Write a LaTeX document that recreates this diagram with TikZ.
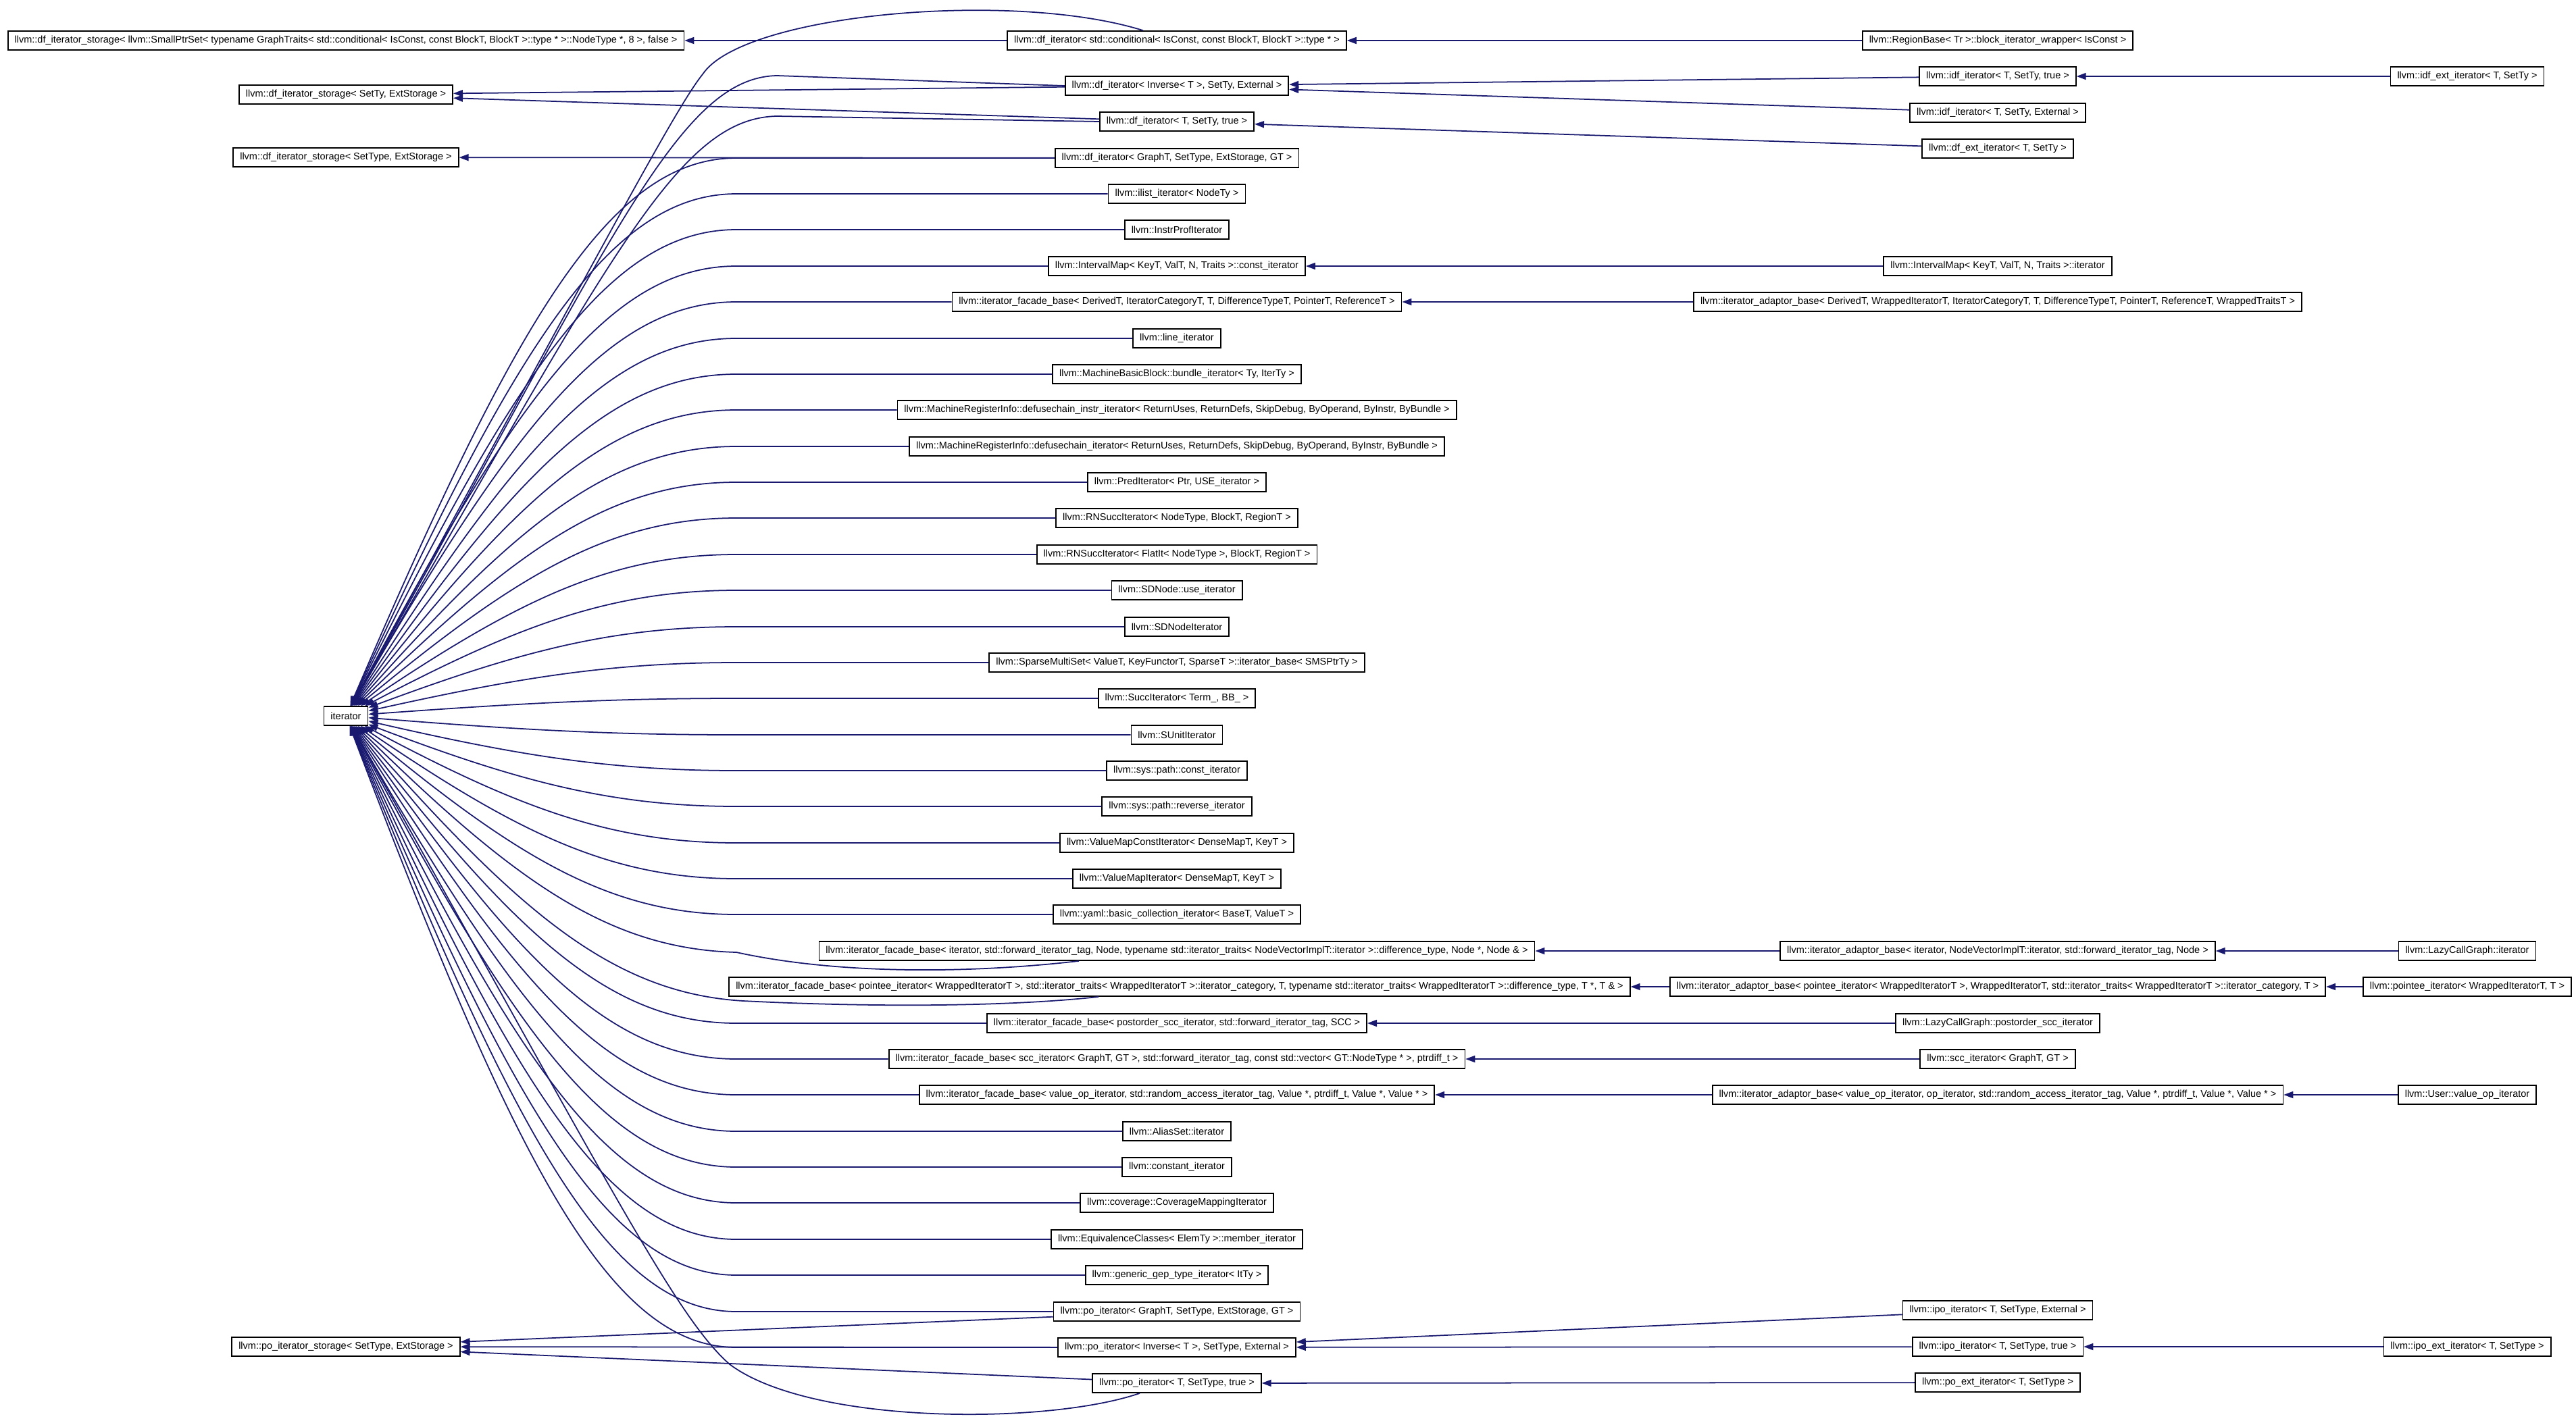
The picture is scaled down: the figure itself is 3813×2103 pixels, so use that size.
\documentclass[tikz,border=0pt]{standalone}
\usepackage{fontspec}
\setmainfont{Liberation Sans}
\definecolor{edgeblue}{RGB}{25,25,112}
\usetikzlibrary{arrows.meta}

\begin{document}
\begin{tikzpicture}[x=0.02cm, y=-0.02cm,
  cls/.style={draw=black, fill=white, line width=1pt, font=\fontsize{8.25}{10}\selectfont, inner xsep=0.2cm, inner ysep=0pt, minimum height=0.56cm},
  inh/.style={draw=edgeblue, line width=1pt, <-},
  >={Triangle[length=0.28cm, width=0.2cm]}]
  \useasboundingbox (0,0) rectangle (3813,2103);

  %--- Base classes ---
  \node[cls] (dfstorebig) at (512,60) {llvm::df\_iterator\_storage< llvm::SmallPtrSet< typename GraphTraits< std::conditional< IsConst, const BlockT, BlockT >::type * >::NodeType *, 8 >, false >};
  \node[cls] (dfstoresetty) at (512,140) {llvm::df\_iterator\_storage< SetTy, ExtStorage >};
  \node[cls] (dfstoresettype) at (512,233) {llvm::df\_iterator\_storage< SetType, ExtStorage >};
  \node[cls] (iterator) at (512,1060) {iterator};
  \node[cls] (postore) at (512,1994) {llvm::po\_iterator\_storage< SetType, ExtStorage >};

  %--- Direct subclasses of iterator ---
  \node[cls] (dfcond) at (1742,60) {llvm::df\_iterator< std::conditional< IsConst, const BlockT, BlockT >::type * >};
  \node[cls] (dfinv) at (1742,127) {llvm::df\_iterator< Inverse< T >, SetTy, External >};
  \node[cls] (dftrue) at (1742,180) {llvm::df\_iterator< T, SetTy, true >};
  \node[cls] (dfgraph) at (1742,234) {llvm::df\_iterator< GraphT, SetType, ExtStorage, GT >};
  \node[cls] (ilist) at (1742,287) {llvm::ilist\_iterator< NodeTy >};
  \node[cls] (instrprof) at (1742,340) {llvm::InstrProfIterator};
  \node[cls] (imapconst) at (1742,394) {llvm::IntervalMap< KeyT, ValT, N, Traits >::const\_iterator};
  \node[cls] (facadederived) at (1742,447) {llvm::iterator\_facade\_base< DerivedT, IteratorCategoryT, T, DifferenceTypeT, PointerT, ReferenceT >};
  \node[cls] (lineit) at (1742,501) {llvm::line\_iterator};
  \node[cls] (bundle) at (1742,554) {llvm::MachineBasicBlock::bundle\_iterator< Ty, IterTy >};
  \node[cls] (defuseinstr) at (1742,607) {llvm::MachineRegisterInfo::defusechain\_instr\_iterator< ReturnUses, ReturnDefs, SkipDebug, ByOperand, ByInstr, ByBundle >};
  \node[cls] (defuse) at (1742,661) {llvm::MachineRegisterInfo::defusechain\_iterator< ReturnUses, ReturnDefs, SkipDebug, ByOperand, ByInstr, ByBundle >};
  \node[cls] (pred) at (1742,714) {llvm::PredIterator< Ptr, USE\_iterator >};
  \node[cls] (rnsucc) at (1742,767) {llvm::RNSuccIterator< NodeType, BlockT, RegionT >};
  \node[cls] (rnsuccflat) at (1742,821) {llvm::RNSuccIterator< FlatIt< NodeType >, BlockT, RegionT >};
  \node[cls] (sdnodeuse) at (1742,874) {llvm::SDNode::use\_iterator};
  \node[cls] (sdnodeit) at (1742,928) {llvm::SDNodeIterator};
  \node[cls] (sparse) at (1742,981) {llvm::SparseMultiSet< ValueT, KeyFunctorT, SparseT >::iterator\_base< SMSPtrTy >};
  \node[cls] (succ) at (1742,1034) {llvm::SuccIterator< Term\_, BB\_ >};
  \node[cls] (sunit) at (1742,1088) {llvm::SUnitIterator};
  \node[cls] (pathconst) at (1742,1141) {llvm::sys::path::const\_iterator};
  \node[cls] (pathrev) at (1742,1194) {llvm::sys::path::reverse\_iterator};
  \node[cls] (vmapconst) at (1742,1248) {llvm::ValueMapConstIterator< DenseMapT, KeyT >};
  \node[cls] (vmap) at (1742,1301) {llvm::ValueMapIterator< DenseMapT, KeyT >};
  \node[cls] (yaml) at (1742,1354) {llvm::yaml::basic\_collection\_iterator< BaseT, ValueT >};
  \node[cls] (facadenode) at (1742,1408) {llvm::iterator\_facade\_base< iterator, std::forward\_iterator\_tag, Node, typename std::iterator\_traits< NodeVectorImplT::iterator >::difference\_type, Node *, Node \& >};
  \node[cls] (facadepointee) at (1746,1461) {llvm::iterator\_facade\_base< pointee\_iterator< WrappedIteratorT >, std::iterator\_traits< WrappedIteratorT >::iterator\_category, T, typename std::iterator\_traits< WrappedIteratorT >::difference\_type, T *, T \& >};
  \node[cls] (facadepostorder) at (1742,1515) {llvm::iterator\_facade\_base< postorder\_scc\_iterator, std::forward\_iterator\_tag, SCC >};
  \node[cls] (facadescc) at (1742,1568) {llvm::iterator\_facade\_base< scc\_iterator< GraphT, GT >, std::forward\_iterator\_tag, const std::vector< GT::NodeType * >, ptrdiff\_t >};
  \node[cls] (facadevalueop) at (1742,1621) {llvm::iterator\_facade\_base< value\_op\_iterator, std::random\_access\_iterator\_tag, Value *, ptrdiff\_t, Value *, Value * >};
  \node[cls] (aliasset) at (1742,1675) {llvm::AliasSet::iterator};
  \node[cls] (constant) at (1742,1728) {llvm::constant\_iterator};
  \node[cls] (coverage) at (1742,1781) {llvm::coverage::CoverageMappingIterator};
  \node[cls] (equiv) at (1742,1835) {llvm::EquivalenceClasses< ElemTy >::member\_iterator};
  \node[cls] (gep) at (1742,1888) {llvm::generic\_gep\_type\_iterator< ItTy >};
  \node[cls] (pograph) at (1742,1942) {llvm::po\_iterator< GraphT, SetType, ExtStorage, GT >};
  \node[cls] (poinv) at (1742,1995) {llvm::po\_iterator< Inverse< T >, SetType, External >};
  \node[cls] (potrue) at (1742,2048) {llvm::po\_iterator< T, SetType, true >};

  %--- Second level ---
  \node[cls] (regionbase) at (2957,60) {llvm::RegionBase< Tr >::block\_iterator\_wrapper< IsConst >};
  \node[cls] (idftrue) at (2957,113) {llvm::idf\_iterator< T, SetTy, true >};
  \node[cls] (idfexternal) at (2957,167) {llvm::idf\_iterator< T, SetTy, External >};
  \node[cls] (dfext) at (2957,220) {llvm::df\_ext\_iterator< T, SetTy >};
  \node[cls] (imapit) at (2957,394) {llvm::IntervalMap< KeyT, ValT, N, Traits >::iterator};
  \node[cls] (adaptorderived) at (2957,447) {llvm::iterator\_adaptor\_base< DerivedT, WrappedIteratorT, IteratorCategoryT, T, DifferenceTypeT, PointerT, ReferenceT, WrappedTraitsT >};
  \node[cls] (adaptornode) at (2957,1408) {llvm::iterator\_adaptor\_base< iterator, NodeVectorImplT::iterator, std::forward\_iterator\_tag, Node >};
  \node[cls] (adaptorpointee) at (2957,1461) {llvm::iterator\_adaptor\_base< pointee\_iterator< WrappedIteratorT >, WrappedIteratorT, std::iterator\_traits< WrappedIteratorT >::iterator\_category, T >};
  \node[cls] (lcgpostorder) at (2957,1515) {llvm::LazyCallGraph::postorder\_scc\_iterator};
  \node[cls] (sccit) at (2957,1568) {llvm::scc\_iterator< GraphT, GT >};
  \node[cls] (adaptorvalueop) at (2957,1621) {llvm::iterator\_adaptor\_base< value\_op\_iterator, op\_iterator, std::random\_access\_iterator\_tag, Value *, ptrdiff\_t, Value *, Value * >};
  \node[cls] (ipoexternal) at (2957,1940) {llvm::ipo\_iterator< T, SetType, External >};
  \node[cls] (ipotrue) at (2957,1994) {llvm::ipo\_iterator< T, SetType, true >};
  \node[cls] (poext) at (2957,2047) {llvm::po\_ext\_iterator< T, SetType >};

  %--- Third level ---
  \node[cls] (idfextit) at (3652,113) {llvm::idf\_ext\_iterator< T, SetTy >};
  \node[cls] (lcgit) at (3652,1408) {llvm::LazyCallGraph::iterator};
  \node[cls] (pointeeit) at (3652,1461) {llvm::pointee\_iterator< WrappedIteratorT, T >};
  \node[cls] (uservalueop) at (3652,1621) {llvm::User::value\_op\_iterator};
  \node[cls] (ipoextit) at (3652,1994) {llvm::ipo\_ext\_iterator< T, SetType >};

  %--- Storage edges ---
  \draw[inh] (dfstorebig) -- (dfcond);
  \draw[inh] (dfstoresetty) -- (dfinv);
  \draw[inh] (dfstoresetty) -- (dftrue);
  \draw[inh] (dfstoresettype) -- (dfgraph);
  \draw[inh] (postore) -- (pograph);
  \draw[inh] (postore) -- (poinv);
  \draw[inh] (postore) -- (potrue);

  %--- Edges into iterator ---
  \draw[inh] (iterator) .. controls (900,350) and (1000,160) .. (1040,110) .. controls (1100,20) and (1500,-15) .. ([xshift=-1cm]dfcond.north);
  \draw[inh] (iterator) .. controls (900,370) and (1000,115) .. (1150,112) -- (dfinv.west);
  \draw[inh] (iterator) .. controls (900,390) and (1000,175) .. (1150,172) -- (dftrue.west);
  \draw[inh] (iterator) .. controls (760,482) and (900,234) .. (1090,234) -- (dfgraph.west);
  \draw[inh] (iterator) .. controls (760,519) and (900,287) .. (1090,287) -- (ilist.west);
  \draw[inh] (iterator) .. controls (760,556) and (900,340) .. (1090,340) -- (instrprof.west);
  \draw[inh] (iterator) .. controls (760,594) and (900,394) .. (1090,394) -- (imapconst.west);
  \draw[inh] (iterator) .. controls (760,631) and (900,447) .. (1090,447) -- (facadederived.west);
  \draw[inh] (iterator) .. controls (760,669) and (900,501) .. (1090,501) -- (lineit.west);
  \draw[inh] (iterator) .. controls (760,706) and (900,554) .. (1090,554) -- (bundle.west);
  \draw[inh] (iterator) .. controls (760,743) and (900,607) .. (1090,607) -- (defuseinstr.west);
  \draw[inh] (iterator) .. controls (760,781) and (900,661) .. (1090,661) -- (defuse.west);
  \draw[inh] (iterator) .. controls (760,818) and (900,714) .. (1090,714) -- (pred.west);
  \draw[inh] (iterator) .. controls (760,855) and (900,767) .. (1090,767) -- (rnsucc.west);
  \draw[inh] (iterator) .. controls (760,893) and (900,821) .. (1090,821) -- (rnsuccflat.west);
  \draw[inh] (iterator) .. controls (760,930) and (900,874) .. (1090,874) -- (sdnodeuse.west);
  \draw[inh] (iterator) .. controls (760,968) and (900,928) .. (1090,928) -- (sdnodeit.west);
  \draw[inh] (iterator) .. controls (760,1005) and (900,981) .. (1090,981) -- (sparse.west);
  \draw[inh] (iterator) .. controls (760,1042) and (900,1034) .. (1090,1034) -- (succ.west);
  \draw[inh] (iterator) .. controls (760,1080) and (900,1088) .. (1090,1088) -- (sunit.west);
  \draw[inh] (iterator) .. controls (760,1117) and (900,1141) .. (1090,1141) -- (pathconst.west);
  \draw[inh] (iterator) .. controls (760,1154) and (900,1194) .. (1090,1194) -- (pathrev.west);
  \draw[inh] (iterator) .. controls (760,1192) and (900,1248) .. (1090,1248) -- (vmapconst.west);
  \draw[inh] (iterator) .. controls (760,1229) and (900,1301) .. (1090,1301) -- (vmap.west);
  \draw[inh] (iterator) .. controls (760,1266) and (900,1354) .. (1090,1354) -- (yaml.west);
  \draw[inh] (iterator) .. controls (760,1304) and (900,1405) .. (1090,1410) .. controls (1250,1445) and (1450,1440) .. ([xshift=-2.9cm]facadenode.south);
  \draw[inh] (iterator) .. controls (760,1341) and (900,1470) .. (1100,1482) .. controls (1300,1492) and (1500,1490) .. ([xshift=-2.4cm]facadepointee.south);
  \draw[inh] (iterator) .. controls (760,1379) and (900,1515) .. (1090,1515) -- (facadepostorder.west);
  \draw[inh] (iterator) .. controls (760,1416) and (900,1568) .. (1090,1568) -- (facadescc.west);
  \draw[inh] (iterator) .. controls (760,1453) and (900,1621) .. (1090,1621) -- (facadevalueop.west);
  \draw[inh] (iterator) .. controls (760,1491) and (900,1675) .. (1090,1675) -- (aliasset.west);
  \draw[inh] (iterator) .. controls (760,1528) and (900,1728) .. (1090,1728) -- (constant.west);
  \draw[inh] (iterator) .. controls (760,1565) and (900,1781) .. (1090,1781) -- (coverage.west);
  \draw[inh] (iterator) .. controls (760,1603) and (900,1835) .. (1090,1835) -- (equiv.west);
  \draw[inh] (iterator) .. controls (760,1640) and (900,1888) .. (1090,1888) -- (gep.west);
  \draw[inh] (iterator) .. controls (760,1677) and (900,1942) .. (1090,1942) -- (pograph.west);
  \draw[inh] (iterator) .. controls (760,1715) and (900,1995) .. (1090,1995) -- (poinv.west);
  \draw[inh] (iterator) .. controls (900,1750) and (1000,1950) .. (1080,2020) .. controls (1200,2110) and (1550,2110) .. ([xshift=-1.1cm]potrue.south);

  %--- Subclass edges ---
  \draw[inh] (dfcond) -- (regionbase);
  \draw[inh] (dfinv) -- (idftrue);
  \draw[inh] (dfinv) -- (idfexternal);
  \draw[inh] (dftrue) -- (dfext);
  \draw[inh] (imapconst) -- (imapit);
  \draw[inh] (facadederived) -- (adaptorderived);
  \draw[inh] (facadenode) -- (adaptornode);
  \draw[inh] (facadepointee) -- (adaptorpointee);
  \draw[inh] (facadepostorder) -- (lcgpostorder);
  \draw[inh] (facadescc) -- (sccit);
  \draw[inh] (facadevalueop) -- (adaptorvalueop);
  \draw[inh] (poinv) -- (ipoexternal);
  \draw[inh] (poinv) -- (ipotrue);
  \draw[inh] (potrue) -- (poext);
  \draw[inh] (idftrue) -- (idfextit);
  \draw[inh] (adaptornode) -- (lcgit);
  \draw[inh] (adaptorpointee) -- (pointeeit);
  \draw[inh] (adaptorvalueop) -- (uservalueop);
  \draw[inh] (ipotrue) -- (ipoextit);
\end{tikzpicture}
\end{document}
